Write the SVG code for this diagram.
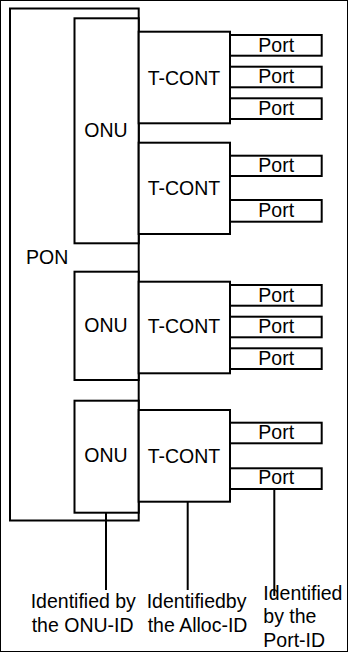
<svg xmlns="http://www.w3.org/2000/svg" width="348" height="652" viewBox="0 0 348 652">
<style>
rect{fill:#fff;stroke:#000;stroke-width:2}
line{stroke:#000;stroke-width:2}
text{font-family:"Liberation Sans",Arial,sans-serif;font-size:19.5px;fill:#000}
</style>
<rect width="348" height="652" fill="#fff" stroke="none"/>
<g id="pon"><rect x="10" y="8.5" width="128.7" height="512"/><text x="26" y="264">PON</text></g>
<g id="onu1"><rect x="74.5" y="18.3" width="64.2" height="225"/><text x="84.3" y="136.7">ONU</text></g>
<g id="onu2"><rect x="74.5" y="271.7" width="64.2" height="108.3"/><text x="84.3" y="331.7">ONU</text></g>
<g id="onu3"><rect x="74.5" y="400.7" width="64.2" height="112"/><text x="84.3" y="461.7">ONU</text></g>
<g id="tcont1"><rect x="138.7" y="31.7" width="91.3" height="91.6"/><text x="147.7" y="85">T-CONT</text></g>
<g id="tcont2"><rect x="138.7" y="142.7" width="91.3" height="91.3"/><text x="147.7" y="195">T-CONT</text></g>
<g id="tcont3"><rect x="138.7" y="281.7" width="91.3" height="91.6"/><text x="147.7" y="332.7">T-CONT</text></g>
<g id="tcont4"><rect x="138.7" y="410" width="91.3" height="91.7"/><text x="147.7" y="462.7">T-CONT</text></g>
<g id="port1"><rect x="230" y="35" width="91.7" height="20.7"/><text x="258.3" y="52.3">Port</text></g>
<g id="port2"><rect x="230" y="66.7" width="91.7" height="20.6"/><text x="258.3" y="83.3">Port</text></g>
<g id="port3"><rect x="230" y="98.3" width="91.7" height="20.7"/><text x="258.3" y="115">Port</text></g>
<g id="port4"><rect x="230" y="155.7" width="91.7" height="20.3"/><text x="258.3" y="171.7">Port</text></g>
<g id="port5"><rect x="230" y="200" width="91.7" height="21.7"/><text x="258.3" y="216.7">Port</text></g>
<g id="port6"><rect x="230" y="285" width="91.7" height="20.7"/><text x="258.3" y="302.3">Port</text></g>
<g id="port7"><rect x="230" y="316.7" width="91.7" height="20.6"/><text x="258.3" y="333.3">Port</text></g>
<g id="port8"><rect x="230" y="348.3" width="91.7" height="20.7"/><text x="258.3" y="365">Port</text></g>
<g id="port9"><rect x="230" y="422.7" width="91.7" height="20.6"/><text x="258.3" y="439">Port</text></g>
<g id="port10"><rect x="230" y="468.3" width="91.7" height="20.7"/><text x="258.3" y="484">Port</text></g>
<g id="connectors">
<line x1="106" y1="512.7" x2="106" y2="590"/>
<line x1="187.7" y1="501.7" x2="187.7" y2="590"/>
<line x1="274.3" y1="489" x2="274.3" y2="596"/>
</g>
<g id="labels">
<text x="30.7" y="608">Identified by</text>
<text x="31.7" y="631.7">the ONU-ID</text>
<text x="146.7" y="608">Identifiedby</text>
<text x="147.7" y="631.7">the Alloc-ID</text>
<text x="263.3" y="600">Identified</text>
<text x="263.3" y="623.3">by the</text>
<text x="263.3" y="646.7">Port-ID</text>
</g>
</svg>
